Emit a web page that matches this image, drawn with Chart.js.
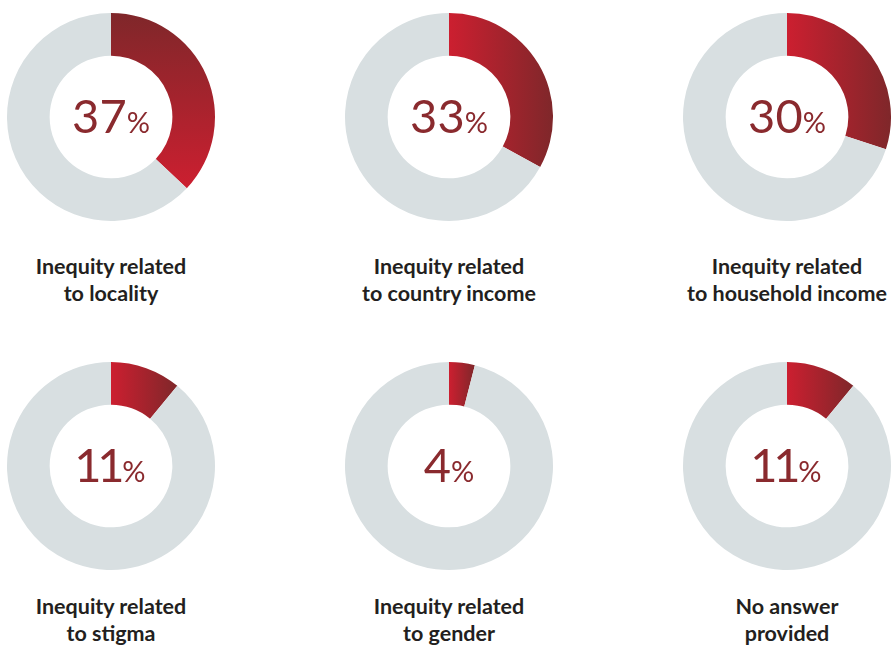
<!DOCTYPE html>
<html>
<head>
<meta charset="utf-8">
<script src="https://cdn.jsdelivr.net/npm/chart.js@4.4.1/dist/chart.umd.min.js"></script>
<style>
  html, body { margin: 0; padding: 0; background: #ffffff; }
  #stage { position: relative; width: 895px; height: 646px; overflow: hidden; }
  .donut { position: absolute; width: 210px; height: 210px; }
  .caption {
    position: absolute; width: 300px; text-align: center;
    font-family: Lato, "Open Sans", sans-serif; font-weight: 700;
    font-size: 21.5px; line-height: 27px; color: #231f20;
  }
</style>
</head>
<body>
<div id="stage"></div>
<script>
// Share of responses per inequity type (percent)
const categories = [
  ["Inequity related", "to locality"],
  ["Inequity related", "to country income"],
  ["Inequity related", "to household income"],
  ["Inequity related", "to stigma"],
  ["Inequity related", "to gender"],
  ["No answer", "provided"]
];
const values = [37, 33, 30, 11, 4, 11];

// Layout: three donuts per row, two rows
const columnCenters = [111, 449, 787];
const rowCenters = [116.5, 465.5];
const captionTops = [253, 593];
const gradientAxis = ['y', 'x', 'x', 'x', 'x', 'x'];

const BRIGHT = '#cc1f30';
const DARK = '#7f272a';
const TRACK = '#d8dfe1';
const NUMBER = '#8a2a2e';
const NUM_FONT = '400 47px Lato, "Open Sans", sans-serif';
const PCT_FONT = '400 29px Lato, "Open Sans", sans-serif';

const stage = document.getElementById('stage');

// Advance for each digit; the narrow "1" gets a tighter step
function digitAdvance(ctx, ch) {
  const w = ctx.measureText(ch).width;
  return ch === '1' ? w * 0.84 : w;
}

// Draws the percentage in the donut hole
const centerText = {
  id: 'centerText',
  afterDraw(chart) {
    const arc = chart.getDatasetMeta(0).data[0];
    if (!arc) return;
    const ctx = chart.ctx;
    const num = String(chart.data.datasets[0].data[0]);
    ctx.save();
    ctx.fillStyle = NUMBER;
    ctx.textBaseline = 'alphabetic';
    ctx.textAlign = 'left';
    ctx.font = NUM_FONT;
    const chars = num.split('');
    const adv = chars.map(ch => digitAdvance(ctx, ch));
    const shift = chars.map((ch, k) => ch === '1' ? -(ctx.measureText(ch).width - adv[k]) / 2 : 0);
    const wNum = adv.reduce((a, b) => a + b, 0);
    ctx.font = PCT_FONT;
    const wPct = ctx.measureText('%').width;
    const startX = arc.x - (wNum + wPct) / 2;
    const baseY = arc.y + 16;
    ctx.font = NUM_FONT;
    let x = startX;
    chars.forEach((ch, k) => { ctx.fillText(ch, x + shift[k], baseY); x += adv[k]; });
    ctx.font = PCT_FONT;
    ctx.fillText('%', x, baseY);
    ctx.restore();
  }
};

values.forEach((v, i) => {
  const col = i % 3, row = Math.floor(i / 3);
  const cx = columnCenters[col], cy = rowCenters[row];

  const canvas = document.createElement('canvas');
  canvas.className = 'donut';
  canvas.width = 210; canvas.height = 210;
  canvas.style.left = (cx - 105) + 'px';
  canvas.style.top = (cy - 105) + 'px';
  stage.appendChild(canvas);

  const axis = gradientAxis[i];
  new Chart(canvas, {
    type: 'doughnut',
    data: {
      labels: ['share', 'rest'],
      datasets: [{
        data: [v, 100 - v],
        backgroundColor: (c) => {
          if (c.dataIndex !== 0) return TRACK;
          const area = c.chart.chartArea;
          if (!area) return BRIGHT;
          const x0 = (area.left + area.right) / 2;
          const y0 = (area.top + area.bottom) / 2;
          const R = Math.min(area.right - area.left, area.bottom - area.top) / 2;
          const ds = c.chart.data.datasets[0].data;
          const end = -Math.PI / 2 + (ds[0] / (ds[0] + ds[1])) * 2 * Math.PI;
          const ctx = c.chart.ctx;
          let g;
          if (axis === 'y') {
            // from the top of the ring down to the lowest point of the arc
            const yEnd = (end >= Math.PI / 2) ? y0 + R : y0 + R * Math.sin(end);
            g = ctx.createLinearGradient(0, y0 - R, 0, Math.max(yEnd, y0 - R + 1));
            g.addColorStop(0, DARK);
            g.addColorStop(1, BRIGHT);
          } else {
            // from 12 o'clock to the rightmost extent of the arc
            const xMax = (end >= 0) ? x0 + R : x0 + R * Math.cos(end);
            g = ctx.createLinearGradient(x0, 0, Math.max(xMax, x0 + 1), 0);
            g.addColorStop(0, BRIGHT);
            g.addColorStop(1, DARK);
          }
          return g;
        },
        borderWidth: 0,
        hoverOffset: 0
      }]
    },
    options: {
      responsive: false,
      devicePixelRatio: 1,
      animation: false,
      cutout: '59%',
      layout: { padding: 1 },
      plugins: { legend: { display: false }, tooltip: { enabled: false } },
      events: []
    },
    plugins: [centerText]
  });

  const cap = document.createElement('div');
  cap.className = 'caption';
  cap.style.left = (cx - 150) + 'px';
  cap.style.top = captionTops[row] + 'px';
  cap.innerHTML = categories[i].map(s => s.replace(/&/g, '&amp;')).join('<br>');
  stage.appendChild(cap);
});
</script>
</body>
</html>
